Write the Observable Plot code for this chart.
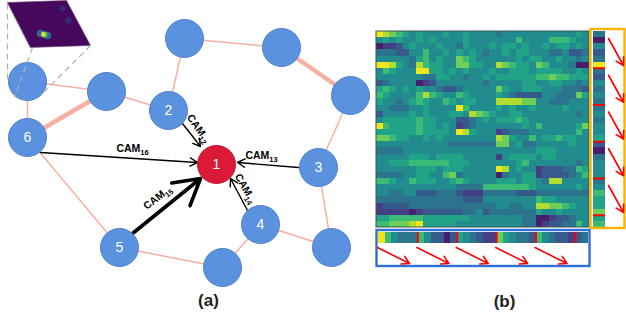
<!DOCTYPE html>
<html><head><meta charset="utf-8">
<script src="https://cdn.jsdelivr.net/npm/d3@7"></script>
<script src="https://cdn.jsdelivr.net/npm/@observablehq/plot@0.6"></script>
<style>html,body{margin:0;padding:0;background:#fff;} #chart svg{display:block;}</style>
</head><body><div id="chart"></div>
<script>
// ---------- (a) graph data ----------
const nodeIds = ["", "", "", "", "", "2", "6", "1", "3", "5", "4", "", ""];
const nodeX   = [27, 106, 184, 281, 350, 168, 27, 216, 318, 119, 260, 222, 331];
const nodeY   = [81, 91, 38, 47, 95, 110, 137, 164, 167, 247, 224, 267, 247];
const nodeHub = [0, 0, 0, 0, 0, 0, 0, 1, 0, 0, 0, 0, 0];
const edgeA     = [0, 0, 6, 1, 5, 2, 3, 4, 8, 6, 9, 11, 10];
const edgeB     = [1, 6, 1, 5, 2, 3, 4, 8, 12, 9, 11, 10, 12];
const edgeThick = [0, 0, 1, 0, 0, 0, 1, 0, 0, 0, 0, 0, 0];
const camSub    = ["12", "16", "13", "15", "14"];
const arrowX1   = [182, 40, 298, 132, 247];
const arrowY1   = [123, 152, 167, 233, 210];
const arrowX2   = [200, 197, 237, 200, 230];
const arrowY2   = [146, 162, 162, 178, 178];
const arrowThick = [0, 0, 0, 1, 0];
const camX   = [198, 132, 261, 157, 245];
const camY   = [128, 148, 155, 197, 188];
const camRot = [55, 0, 0, -38, 60];
const insetX = [7, 66, 90, 30];
const insetY = [2, 0, 45, 47];
const blobX = [40, 47, 44, 43, 68, 62];
const blobY = [33, 35, 34, 34, 20, 8];
const blobR = [5, 5, 4, 2.2, 4, 3];
const blobC = ["#2a788e", "#2a788e", "#35b779", "#fde725", "#3b2f78", "#3b2f78"];
const dashX1 = [7, 32, 90];
const dashY1 = [3, 47, 45];
const dashX2 = [7, 14, 44];
const dashY2 = [80, 97, 91];

// ---------- (b) heatmap data (values 0..9, viridis) ----------
const heatRows = [
  "98765454445445444434444444444454",
  "45454454544445444444464444666544",
  "01124544454435444545545445455454",
  "33322446445454543445455444334223",
  "44444356454476544444454554454434",
  "99854386554477554487655476444300",
  "46544499554545444544555455554454",
  "44444443355443445455555566766555",
  "23444401244444443444445544554434",
  "56545454432234444475445554443332",
  "65444468654465444454322224433375",
  "54434565446545544488887744333444",
  "44333445444496444454544544445444",
  "24444545444554876544554444444434",
  "45555565544422345455565444444444",
  "96555565545412344444445464444457",
  "55555565555498544412333444444464",
  "77655445454444444487544645565544",
  "44444444444333333377453344444544",
  "33334444444444444444444455544444",
  "44444555455554444414555545544444",
  "44555666666555444444456444444434",
  "44444455545554444498454412223365",
  "33334455446734444403445512222346",
  "66544655544565444455545543884444",
  "44444444444433336666666544444454",
  "44334422233321113333322233333333",
  "33333333333332224444444465544444",
  "12222333333333333344334488776544",
  "11111012222223342333333354454444",
  "55666665555555444444443300122344",
  "66777895555544444444443301223364"
];
const rightStrip  = [3,0,4,2,3,9, 3,2,4,3,4,3, 3,4,3,4,4,5, 2,0,3,4,4,4, 3,4,6,5,5,7, 5,6];
const bottomStrip = [9,6,4,3,3,3, 6,4,2,2,0,2, 5,4,3,2,1,1, 7,5,4,3,3,2, 6,4,3,2,2,1, 2,3];
const segSize = 6;
const panelLabels = ["(a)", "(b)"];

// ---------- layout ----------
const W = 626, Hh = 320;
const heat = {x1: 376, x2: 589, y1: 31, y2: 227};
const rStrip = {x1: 593, x2: 605};
const bStrip = {y1: 232, y2: 243, x1: 378, x2: 588};
const yFrame = {x1: 590.5, x2: 624.5, y1: 29, y2: 228};
const bFrame = {x1: 376.5, x2: 589.5, y1: 230, y2: 266};
const labelPos = [[208, 300], [504, 301]];

const nodes = nodeX.map((x, i) => ({x, y: nodeY[i], id: nodeIds[i], hub: nodeHub[i]}));
const edges = edgeA.map((a, i) => ({x1: nodeX[a], y1: nodeY[a], x2: nodeX[edgeB[i]], y2: nodeY[edgeB[i]], thick: edgeThick[i]}));
const arrows = arrowX1.map((x1, i) => ({x1, y1: arrowY1[i], x2: arrowX2[i], y2: arrowY2[i], thick: arrowThick[i]}));
const cams = camSub.map((s, i) => ({t: "CAM" + s, x: camX[i], y: camY[i], r: camRot[i]}));
const inset = insetX.map((x, i) => ({x, y: insetY[i]}));
const blobs = blobX.map((x, i) => ({x, y: blobY[i], r: blobR[i], c: blobC[i]}));
const dashes = dashX1.map((x1, i) => ({x1, y1: dashY1[i], x2: dashX2[i], y2: dashY2[i]}));

const nR = heatRows.length, nC = heatRows[0].length;
const cw = (heat.x2 - heat.x1) / nC, ch = (heat.y2 - heat.y1) / nR;
const cells = heatRows.flatMap((row, i) => [...row].map((c, j) => ({
  x1: heat.x1 + j * cw, x2: heat.x1 + (j + 1) * cw, y1: heat.y1 + i * ch, y2: heat.y1 + (i + 1) * ch, v: +c})));
const rCells = rightStrip.map((v, i) => ({x1: rStrip.x1, x2: rStrip.x2, y1: heat.y1 + i * ch, y2: heat.y1 + (i + 1) * ch, v}));
const bw = (bStrip.x2 - bStrip.x1) / bottomStrip.length;
const bCells = bottomStrip.map((v, i) => ({x1: bStrip.x1 + i * bw, x2: bStrip.x1 + (i + 1) * bw, y1: bStrip.y1, y2: bStrip.y2, v}));
const nSeg = Math.ceil(bottomStrip.length / segSize);
const segIdx = d3.range(1, nSeg);
const rSeps = segIdx.map(k => ({y: heat.y1 + k * segSize * ch}));
const bSeps = segIdx.map(k => ({x: bStrip.x1 + k * segSize * bw}));
const segAll = d3.range(nSeg).filter(k => k < 5);
const bArrows = segAll.map(k => ({x1: bStrip.x1 - 1 + k * segSize * bw, x2: bStrip.x1 + 31 + k * segSize * bw, y1: 247, y2: 263}));
const rArrows = segAll.map(k => ({y1: heat.y1 + 7 + k * segSize * ch, y2: heat.y1 + 34 + k * segSize * ch, x1: 608, x2: 623}));
const panels = panelLabels.map((t, i) => ({t, x: labelPos[i][0], y: labelPos[i][1]}));

const plot = Plot.plot({
  width: W, height: Hh, margin: 0,
  style: {fontFamily: "'Liberation Sans', Arial, sans-serif", background: "#fff"},
  x: {domain: [0, W], range: [0, W], axis: null},
  y: {domain: [0, Hh], range: [0, Hh], axis: null},
  color: {type: "linear", scheme: "viridis", domain: [-0.8, 9.2]},
  marks: [
    Plot.link(edges.filter(d => !d.thick), {x1: "x1", y1: "y1", x2: "x2", y2: "y2", stroke: "#f6b0a2", strokeWidth: 1.5}),
    Plot.link(edges.filter(d => d.thick), {x1: "x1", y1: "y1", x2: "x2", y2: "y2", stroke: "#f6b0a2", strokeWidth: 4.5}),
    Plot.arrow(arrows.filter(d => !d.thick), {x1: "x1", y1: "y1", x2: "x2", y2: "y2", stroke: "#000", strokeWidth: 1.4, headLength: 9}),
    Plot.arrow(arrows.filter(d => d.thick), {x1: "x1", y1: "y1", x2: "x2", y2: "y2", stroke: "#000", strokeWidth: 3.6, headLength: 14}),
    Plot.dot(nodes, {x: "x", y: "y", r: 19, fill: d => d.hub ? "#dc1a38" : "#5b92e0", stroke: d => d.hub ? "#c0152f" : "#4d80cc", strokeWidth: 1}),
    Plot.text(nodes, {x: "x", y: "y", text: "id", fill: "#fff", fontSize: 14}),
    Plot.line(inset, {x: "x", y: "y", fill: "#46085c", stroke: "#6a4a80", strokeWidth: 0.6, curve: "linear-closed"}),
    Plot.dot(blobs, {x: "x", y: "y", r: "r", fill: "c", fillOpacity: 0.85}),
    Plot.link(dashes, {x1: "x1", y1: "y1", x2: "x2", y2: "y2", stroke: "#b0b0b0", strokeWidth: 1.2, strokeDasharray: "6,4"}),
    Plot.text(cams, {x: "x", y: "y", text: "t", rotate: "r", fontSize: 10.5, fontWeight: "bold", fill: "#000"}),
    Plot.rect(cells, {x1: "x1", x2: "x2", y1: "y1", y2: "y2", fill: "v", shapeRendering: "crispEdges"}),
    Plot.rect([heat], {x1: "x1", x2: "x2", y1: "y1", y2: "y2", fill: "none", stroke: "#3d5656", strokeWidth: 1}),
    Plot.rect(rCells, {x1: "x1", x2: "x2", y1: "y1", y2: "y2", fill: "v", shapeRendering: "crispEdges"}),
    Plot.rect(bCells, {x1: "x1", x2: "x2", y1: "y1", y2: "y2", fill: "v", shapeRendering: "crispEdges"}),
    Plot.ruleY(rSeps, {y: "y", x1: rStrip.x1, x2: rStrip.x2, stroke: "#ff0000", strokeWidth: 2}),
    Plot.ruleX(bSeps, {x: "x", y1: bStrip.y1, y2: bStrip.y2, stroke: "#ff0000", strokeWidth: 2}),
    Plot.rect([yFrame], {x1: "x1", x2: "x2", y1: "y1", y2: "y2", fill: "none", stroke: "#fbb500", strokeWidth: 2.4}),
    Plot.rect([bFrame], {x1: "x1", x2: "x2", y1: "y1", y2: "y2", fill: "none", stroke: "#2f70d8", strokeWidth: 2.4}),
    Plot.arrow(bArrows, {x1: "x1", y1: "y1", x2: "x2", y2: "y2", stroke: "#ff0000", strokeWidth: 1.6, headLength: 8}),
    Plot.arrow(rArrows, {x1: "x1", y1: "y1", x2: "x2", y2: "y2", stroke: "#ff0000", strokeWidth: 1.6, headLength: 8}),
    Plot.text(panels, {x: "x", y: "y", text: "t", fontSize: 17, fontWeight: "bold", fill: "#222"})
  ]
});

d3.select(plot).selectAll("text").each(function () {
  const t = this.textContent;
  if (/^CAM\d+$/.test(t)) {
    this.textContent = "CAM";
    d3.select(this).append("tspan").attr("font-size", 7.5).attr("dy", 3).text(t.slice(3));
  }
});
document.getElementById("chart").append(plot);
</script>
</body></html>
